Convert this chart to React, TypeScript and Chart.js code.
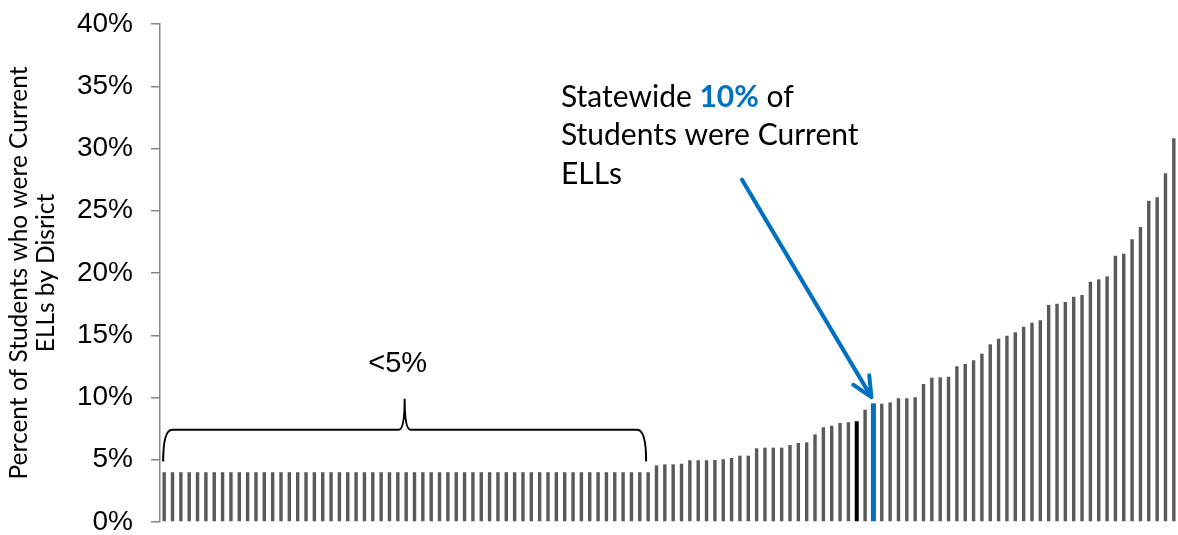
import React, { useEffect, useRef } from 'react';
import { Chart, registerables } from 'chart.js';

Chart.register(...registerables);

// Share of students who were current ELLs, by district (sorted ascending), in percent
const ellShare = [
  4, 4, 4, 4, 4, 4, 4, 4, 4, 4,
  4, 4, 4, 4, 4, 4, 4, 4, 4, 4,
  4, 4, 4, 4, 4, 4, 4, 4, 4, 4,
  4, 4, 4, 4, 4, 4, 4, 4, 4, 4,
  4, 4, 4, 4, 4, 4, 4, 4, 4, 4,
  4, 4, 4, 4, 4, 4, 4, 4, 4,
  4.55, 4.63, 4.63, 4.68, 4.96, 4.96, 4.96, 4.98,
  5.04, 5.14, 5.33, 5.33, 5.92, 5.97, 5.97, 5.97,
  6.18, 6.35, 6.4, 7.04, 7.61, 7.73, 7.95, 8.01,
  8.09, 9.02, 9.53, 9.5, 9.61, 9.94, 9.94, 10.02,
  11.08, 11.59, 11.62, 11.67, 12.51, 12.69, 12.99, 13.52,
  14.27, 14.72, 14.96, 15.24, 15.69, 16.01, 16.2, 17.43,
  17.53, 17.67, 18.1, 18.23, 19.3, 19.49, 19.73, 21.39,
  21.55, 22.71, 23.69, 25.81, 26.08, 28.01, 30.82,
];

const districtLabels = ellShare.map((_, i) => `District ${i + 1}`);

const highlightIndex = 83; // black bar
const statewideIndex = 85; // blue bar (statewide)
const braceFirstIndex = 0;
const braceLastIndex = 58;
const braceLabel = '<5%';
const yAxisTitle = ['Percent of Students who were Current', 'ELLs by Disrict'];
const calloutBefore = 'Statewide ';
const calloutValue = '10%';
const calloutAfter = ' of';
const calloutRest = ['Students were Current', 'ELLs'];

const GRAY = '#595959';
const BLUE = '#0070C0';
const AXIS = '#868686';

const annotationPlugin = {
  id: 'annotations',
  afterDatasetsDraw(chart: any) {
    const { ctx } = chart;
    const xs = chart.scales.x;
    const ys = chart.scales.y;
    ctx.save();

    // Brace over the <5% districts
    const left = xs.getPixelForValue(braceFirstIndex) - 1;
    const right = xs.getPixelForValue(braceLastIndex) - 2;
    const tipX = (left + right) / 2;
    const lineY = ys.getPixelForValue(7.4);
    const endY = ys.getPixelForValue(4.85);
    const tipY = ys.getPixelForValue(9.9);
    const r = 9;
    const w = 6;
    ctx.beginPath();
    ctx.moveTo(left, endY);
    ctx.quadraticCurveTo(left, lineY, left + r, lineY);
    ctx.lineTo(tipX - w, lineY);
    ctx.quadraticCurveTo(tipX, lineY, tipX, tipY);
    ctx.quadraticCurveTo(tipX, lineY, tipX + w, lineY);
    ctx.lineTo(right - r, lineY);
    ctx.quadraticCurveTo(right, lineY, right, endY);
    ctx.strokeStyle = '#000';
    ctx.lineWidth = 2;
    ctx.stroke();

    ctx.fillStyle = '#000';
    ctx.font = '29px "Liberation Sans", Arial, sans-serif';
    ctx.textAlign = 'center';
    ctx.textBaseline = 'alphabetic';
    ctx.fillText(braceLabel, tipX - 7, ys.getPixelForValue(12.05));

    // Arrow to statewide bar
    const ax0 = xs.getPixelForValue(69.24);
    const ay0 = ys.getPixelForValue(27.5);
    const ax1 = xs.getPixelForValue(statewideIndex) - 2;
    const ay1 = ys.getPixelForValue(ellShare[statewideIndex] + 0.5);
    ctx.strokeStyle = BLUE;
    ctx.lineWidth = 4;
    ctx.lineCap = 'round';
    ctx.lineJoin = 'round';
    ctx.beginPath();
    ctx.moveTo(ax0, ay0);
    ctx.lineTo(ax1, ay1);
    const ang = Math.atan2(ay1 - ay0, ax1 - ax0);
    const hl = 22;
    const ha = (25 * Math.PI) / 180;
    ctx.moveTo(ax1 - hl * Math.cos(ang - ha), ay1 - hl * Math.sin(ang - ha));
    ctx.lineTo(ax1, ay1);
    ctx.lineTo(ax1 - hl * Math.cos(ang + ha), ay1 - hl * Math.sin(ang + ha));
    ctx.stroke();

    // Callout text
    const size = 30;
    const lh = 38.5;
    const tx = xs.getPixelForValue(47.55);
    const ty = ys.getPixelForValue(33.36);
    ctx.textAlign = 'left';
    ctx.textBaseline = 'alphabetic';
    ctx.fillStyle = '#000';
    ctx.font = `${size}px Lato, sans-serif`;
    ctx.fillText(calloutBefore, tx, ty);
    let cx = tx + ctx.measureText(calloutBefore).width;
    ctx.font = `bold ${size}px Lato, sans-serif`;
    ctx.fillStyle = BLUE;
    ctx.fillText(calloutValue, cx, ty);
    cx += ctx.measureText(calloutValue).width;
    ctx.font = `${size}px Lato, sans-serif`;
    ctx.fillStyle = '#000';
    ctx.fillText(calloutAfter, cx, ty);
    calloutRest.forEach((line, i) => {
      ctx.fillText(line, tx, ty + lh * (i + 1));
    });

    ctx.restore();
  },
};

export default function App() {
  const canvasRef = useRef<HTMLCanvasElement | null>(null);

  useEffect(() => {
    document.body.style.margin = '0';
    const canvas = canvasRef.current;
    if (!canvas) return;

    const grayData = ellShare.map((v, i) => (i === highlightIndex || i === statewideIndex ? null : v));
    const blackData = ellShare.map((v, i) => (i === highlightIndex ? v : null));
    const blueData = ellShare.map((v, i) => (i === statewideIndex ? v : null));

    const chart = new Chart(canvas, {
      type: 'bar',
      data: {
        labels: districtLabels,
        datasets: [
          { data: grayData, backgroundColor: GRAY, barPercentage: 0.41, categoryPercentage: 1, grouped: false },
          { data: blackData, backgroundColor: '#000000', barPercentage: 0.48, categoryPercentage: 1, grouped: false },
          { data: blueData, backgroundColor: BLUE, barPercentage: 0.6, categoryPercentage: 1, grouped: false },
        ],
      },
      options: {
        animation: false,
        responsive: true,
        maintainAspectRatio: false,
        layout: { padding: { top: 24, bottom: 13, left: 0, right: 0 } },
        plugins: {
          legend: { display: false },
          tooltip: { enabled: false },
          title: { display: false },
        },
        scales: {
          x: {
            display: false,
            offset: true,
          },
          y: {
            min: 0,
            max: 40,
            ticks: {
              stepSize: 5,
              callback: (v: any) => `${v}%`,
              color: '#000',
              padding: 18,
              font: { family: '"Liberation Sans", Arial, sans-serif', size: 28 },
            },
            grid: {
              drawOnChartArea: false,
              drawTicks: true,
              tickLength: 9,
              color: AXIS,
              lineWidth: 1.5,
            },
            border: { display: true, color: AXIS, width: 1.5 },
            title: {
              display: true,
              text: yAxisTitle,
              color: '#000',
              padding: { top: 5, bottom: 0 },
              font: { family: 'Lato, sans-serif', size: 24.5, lineHeight: 1.12 },
            },
            afterFit: (scale: any) => {
              scale.width = 160;
              scale.paddingTop = 0;
              scale.paddingBottom = 0;
            },
          },
        },
      },
      plugins: [annotationPlugin],
    });

    return () => chart.destroy();
  }, []);

  return (
    <div style={{ position: 'relative', width: '1178px', height: '535px' }}>
      <canvas ref={canvasRef} />
    </div>
  );
}
